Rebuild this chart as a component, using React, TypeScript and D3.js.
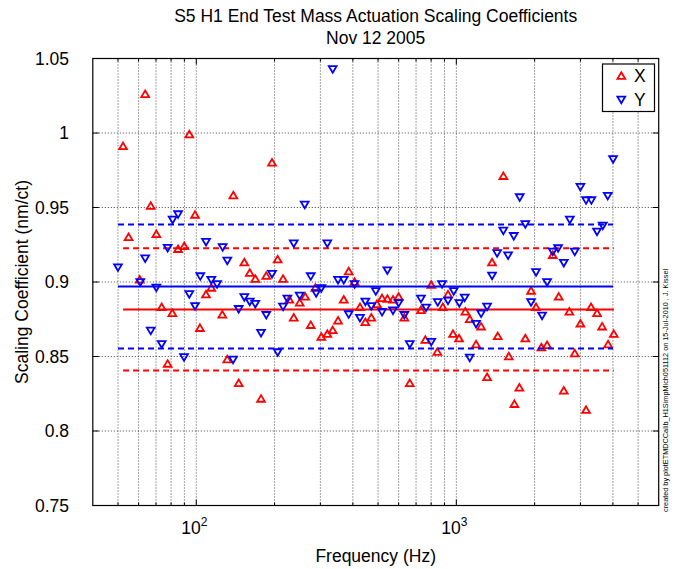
import * as d3 from 'd3';
import React from 'react';

// X (red, up triangles)
const xFreq = [52.3, 54.9, 60.6, 63.6, 66.8, 70.2, 73.6, 77.6, 80.9, 85.1, 89.9, 94, 98.9, 103.3, 109, 114.2, 125.9, 131.6, 138.8, 145.6,
  153, 160.5, 168.6, 177.4, 185.8, 195.5, 205.6, 215.6, 227.9, 237, 249.8, 262.4, 275.5, 286.9, 302.6, 319, 334.6, 350.8, 369, 385.5,
  406, 426, 446.7, 471, 495, 518, 543, 571, 600, 631, 662, 731, 760, 801, 845, 887, 929, 971, 1024, 1083,
  1126, 1191, 1245, 1313, 1372, 1443, 1516, 1591, 1672, 1747, 1842, 1938, 2025, 2123, 2233, 2348, 2476, 2589, 2720, 2853,
  3000, 3154, 3296, 3476, 3635, 3833, 4031];
const xCoef = [0.991, 0.930, 0.9015, 1.026, 0.951, 0.932, 0.883, 0.845, 0.879, 0.922, 0.924, 0.999, 0.945, 0.869, 0.8915, 0.896, 0.878, 0.848, 0.958, 0.832,
  0.913, 0.906, 0.902, 0.8215, 0.904, 0.980, 0.915, 0.902, 0.888, 0.876, 0.886, 0.890, 0.871, 0.896, 0.863, 0.865, 0.8675, 0.874, 0.888, 0.907,
  0.900, 0.883, 0.873, 0.876, 0.885, 0.889, 0.8886, 0.888, 0.890, 0.876, 0.832, 0.881, 0.861, 0.898, 0.853, 0.883, 0.8915, 0.865, 0.862, 0.880,
  0.875, 0.858, 0.870, 0.836, 0.913, 0.8635, 0.971, 0.850, 0.818, 0.829, 0.862, 0.894, 0.883, 0.856, 0.8575, 0.918, 0.890, 0.827, 0.880, 0.852,
  0.872, 0.814, 0.883, 0.879, 0.870, 0.858, 0.865];

// Y (blue, down triangles)
const yFreq = [50, 60.9, 63.6, 66.8, 70.2, 73.6, 77.6, 81.1, 85.1, 89.7, 94, 98.9, 103.6, 109, 114.2, 120.2, 126.3, 131.6, 138.5, 145.6,
  153, 160.5, 168.6, 177.4, 185.8, 195.5, 205.6, 215.6, 224, 237, 249.8, 261.2, 275.5, 289, 302.6, 319, 334.6, 350.8, 369, 385.5,
  406, 426, 446.7, 471, 490, 518, 543, 571, 600, 631, 662, 731, 765, 801, 848, 881, 929, 977, 1027, 1077,
  1126, 1191, 1245, 1313, 1372, 1435, 1516, 1581, 1663, 1753, 1842, 1938, 2025, 2136, 2233, 2348, 2462, 2589, 2731, 2853,
  3000, 3154, 3306, 3476, 3657, 3822, 4006];
const yCoef = [0.910, 0.900, 0.916, 0.8675, 0.8964, 0.8584, 0.923, 0.942, 0.9456, 0.8497, 0.892, 0.884, 0.904, 0.927, 0.9015, 0.8987, 0.9235, 0.9145, 0.848, 0.882,
  0.890, 0.887, 0.8854, 0.866, 0.878, 0.9056, 0.853, 0.8836, 0.889, 0.926, 0.891, 0.952, 0.904, 0.8926, 0.896, 0.926, 1.043, 0.9015, 0.9015, 0.8785,
  0.8987, 0.876, 0.887, 0.884, 0.894, 0.880, 0.908, 0.881, 0.886, 0.878, 0.8584, 0.889, 0.883, 0.860, 0.8866, 0.8987, 0.8877, 0.894, 0.886, 0.8897,
  0.8494, 0.872, 0.879, 0.8836, 0.9044, 0.9195, 0.9346, 0.918, 0.931, 0.957, 0.939, 0.8866, 0.9067, 0.8776, 0.900, 0.9205, 0.9228, 0.913, 0.942, 0.9205,
  0.964, 0.955, 0.955, 0.934, 0.938, 0.958, 0.9826];

// mean and +/- band for each series
const xStats = { mean: 0.8816, lo: 0.8406, hi: 0.9227 };
const yStats = { mean: 0.8970, lo: 0.8554, hi: 0.9386 };

const yTicks = [0.75, 0.8, 0.85, 0.9, 0.95, 1, 1.05];
const xMajor = [100, 1000];
const xMinor = [50, 60, 70, 80, 90, 200, 300, 400, 500, 600, 700, 800, 900, 2000, 3000, 4000, 5000];

const W = 681, H = 569;
const FONT = 'Liberation Sans, Arial, Helvetica, sans-serif';
const FS = 17.5;

const x = d3.scaleLog().domain([40, 6000]).range([92.8, 658.7]);
const y = d3.scaleLinear().domain([0.75, 1.05]).range([505.5, 58.5]);

const upTri = 'M0,-3.8L3.9,2.8L-3.9,2.8Z';
const downTri = 'M0,3.8L3.9,-2.8L-3.9,-2.8Z';

function Series({ freq, coef, stats, color, marker }) {
  const f0 = d3.min(freq), f1 = d3.max(freq);
  const hline = (v, dash) => (
    <line x1={x(f0)} x2={x(f1)} y1={y(v)} y2={y(v)} stroke={color} strokeWidth={2}
      strokeDasharray={dash ? '6,4' : undefined} />
  );
  return (
    <g>
      {freq.map((f, i) => (
        <path key={i} d={marker} transform={`translate(${x(f)},${y(coef[i])})`}
          fill="none" stroke={color} strokeWidth={1.8} />
      ))}
      {hline(stats.mean, false)}
      {hline(stats.hi, true)}
      {hline(stats.lo, true)}
    </g>
  );
}

export default function App() {
  const [x0, x1] = x.range();
  const [y0, y1] = y.range();
  const gridX = [...xMinor, ...xMajor];
  return (
    <svg width={W} height={H} style={{ position: 'absolute', left: 0, top: 0, background: '#fff' }}
      fontFamily={FONT}>
      <rect width={W} height={H} fill="#fff" />
      {/* grid */}
      {gridX.map(f => (
        <line key={'gx' + f} x1={x(f)} x2={x(f)} y1={y1} y2={y0} stroke="#444" strokeWidth={1} strokeDasharray="1,2" />
      ))}
      {yTicks.slice(1, -1).map(v => (
        <line key={'gy' + v} x1={x0} x2={x1} y1={y(v)} y2={y(v)} stroke="#444" strokeWidth={1} strokeDasharray="1,2" />
      ))}
      {/* ticks */}
      {yTicks.map(v => (
        <g key={'ty' + v}>
          <line x1={x0} x2={x0 + 6} y1={y(v)} y2={y(v)} stroke="#000" />
          <line x1={x1} x2={x1 - 6} y1={y(v)} y2={y(v)} stroke="#000" />
          <text x={69} y={y(v)} dy="0.35em" textAnchor="end" fontSize={FS}>{d3.format('')(v)}</text>
        </g>
      ))}
      {xMinor.map(f => (
        <g key={'tm' + f}>
          <line x1={x(f)} x2={x(f)} y1={y0} y2={y0 - 3} stroke="#000" />
          <line x1={x(f)} x2={x(f)} y1={y1} y2={y1 + 3} stroke="#000" />
        </g>
      ))}
      {xMajor.map(f => (
        <g key={'tM' + f}>
          <line x1={x(f)} x2={x(f)} y1={y0} y2={y0 - 6} stroke="#000" />
          <line x1={x(f)} x2={x(f)} y1={y1} y2={y1 + 6} stroke="#000" />
          <text x={x(f) - 2} y={534} textAnchor="middle" fontSize={FS}>
            10<tspan dy={-8} fontSize={12}>{Math.round(Math.log10(f))}</tspan>
          </text>
        </g>
      ))}
      <Series freq={xFreq} coef={xCoef} stats={xStats} color="#ff0000" marker={upTri} />
      <Series freq={yFreq} coef={yCoef} stats={yStats} color="#0000ff" marker={downTri} />
      <rect x={x0} y={y1} width={x1 - x0} height={y0 - y1} fill="none" stroke="#000" strokeWidth={1.2} />
      {/* legend */}
      <g>
        <rect x={602.5} y={64} width={52} height={47.5} fill="#fff" stroke="#000" strokeWidth={1.2} />
        <path d={upTri} transform="translate(621.3,76)" fill="none" stroke="#ff0000" strokeWidth={1.8} />
        <text x={634} y={76} dy="0.36em" fontSize={FS}>X</text>
        <path d={downTri} transform="translate(621.3,99.5)" fill="none" stroke="#0000ff" strokeWidth={1.8} />
        <text x={634} y={99.5} dy="0.36em" fontSize={FS}>Y</text>
      </g>
      {/* titles */}
      <text x={375.7} y={22} textAnchor="middle" fontSize={FS}>S5 H1 End Test Mass Actuation Scaling Coefficients</text>
      <text x={375.7} y={44} textAnchor="middle" fontSize={FS}>Nov 12 2005</text>
      <text x={375.7} y={562} textAnchor="middle" fontSize={FS}>Frequency (Hz)</text>
      <text transform="translate(28,282) rotate(-90)" textAnchor="middle" fontSize={FS}>Scaling Coefficient (nm/ct)</text>
      <text transform="translate(668,512) rotate(-90)" fontSize={7.3}>created by plotETMDCCalib_H1SimpMich051112 on 15-Jul-2010 , J. Kissel</text>
    </svg>
  );
}
